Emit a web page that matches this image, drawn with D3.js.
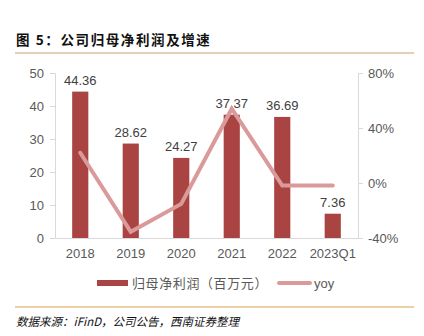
<!DOCTYPE html>
<html><head><meta charset="utf-8">
<script src="https://cdn.jsdelivr.net/npm/d3@7"></script>
<style>body{margin:0;background:#fff}svg{display:block}</style>
</head><body>
<svg id="c" width="424" height="336"></svg>
<script>
const categories = ["2018","2019","2020","2021","2022","2023Q1"];
const profit = [44.36, 28.62, 24.27, 37.37, 36.69, 7.36];
const yoy = [22, -35.5, -15.2, 54, -1.8, -1.8];
const leftTicks = [0,10,20,30,40,50];
const rightTicks = [-40,0,40,80];
const title = "图 5：公司归母净利润及增速";
const source = "数据来源：iFinD，公司公告，西南证券整理";
const legendNames = ["归母净利润（百万元）","yoy"];

const svg = d3.select("#c");
const font = "'Liberation Sans', Arial, 'Noto Sans CJK SC', sans-serif";
const cjk = "'Noto Sans CJK SC', sans-serif";
const barColor = "#a94442", lineColor = "#da9a9a", textColor = "#595959", axisColor = "#d9d9d9";
const L = 55, R = 358, T = 73, B = 238;

svg.append("text").attr("x",16).attr("y",45).attr("font-family",cjk).attr("font-weight","bold")
  .attr("font-size",13.5).attr("letter-spacing",1.6).attr("fill","#111").text(title);
svg.append("line").attr("x1",15).attr("x2",414).attr("y1",53).attr("y2",53).attr("stroke","#c9a46c").attr("stroke-width",1.2);
svg.append("line").attr("x1",15).attr("x2",414).attr("y1",307).attr("y2",307).attr("stroke","#d9a050").attr("stroke-width",1);
svg.append("text").attr("x",16).attr("y",326).attr("font-family",cjk).attr("font-style","italic")
  .attr("font-size",11.5).attr("fill","#111").text(source);

const x = d3.scaleBand().domain(categories).range([L,R]).paddingInner(0.68).paddingOuter(0.34);
const yL = d3.scaleLinear().domain([0,50]).range([B,T]);
const yR = d3.scaleLinear().domain([-40,80]).range([B,T]);

// axes
const gL = svg.append("g").attr("transform",`translate(${L},0)`)
  .call(d3.axisLeft(yL).tickValues(leftTicks).tickSize(5).tickPadding(6));
const gR = svg.append("g").attr("transform",`translate(${R},0)`)
  .call(d3.axisRight(yR).tickValues(rightTicks).tickFormat(d=>d+"%").tickSize(5).tickPadding(5));
const gB = svg.append("g").attr("transform",`translate(0,${B})`)
  .call(d3.axisBottom(x).tickSize(0).tickPadding(11));
[gL,gR,gB].forEach(g=>{
  g.selectAll("path,line").attr("stroke",axisColor);
  g.selectAll("text").attr("font-family",font).attr("font-size",13).attr("fill",textColor);
});
gL.select(".tick line").attr("stroke-opacity",0);

// bars
svg.append("g").selectAll("rect").data(profit).join("rect")
  .attr("x",(d,i)=>x(categories[i])).attr("width",x.bandwidth())
  .attr("y",d=>yL(d)).attr("height",d=>B-yL(d)).attr("fill",barColor);
svg.append("g").selectAll("text").data(profit).join("text")
  .attr("x",(d,i)=>x(categories[i])+x.bandwidth()/2).attr("y",d=>yL(d)-7)
  .attr("text-anchor","middle").attr("font-family",font).attr("font-size",13).attr("fill","#404040")
  .text(d=>d.toFixed(2));

// line
const line = d3.line().x((d,i)=>x(categories[i])+x.bandwidth()/2).y(d=>yR(d));
svg.append("path").datum(yoy).attr("d",line).attr("fill","none").attr("stroke",lineColor)
  .attr("stroke-width",4).attr("stroke-linecap","round").attr("stroke-linejoin","miter");

// legend
const lg = svg.append("g").attr("font-family",cjk).attr("font-size",13).attr("fill",textColor);
lg.append("rect").attr("x",97).attr("y",280).attr("width",31).attr("height",6).attr("fill",barColor);
lg.append("text").attr("x",132).attr("y",288).attr("letter-spacing",0.6).text(legendNames[0]);
lg.append("line").attr("x1",279).attr("x2",310).attr("y1",283).attr("y2",283).attr("stroke",lineColor).attr("stroke-width",4).attr("stroke-linecap","round");
lg.append("text").attr("x",314).attr("y",288).attr("font-family",font).text(legendNames[1]);
</script>
</body></html>
